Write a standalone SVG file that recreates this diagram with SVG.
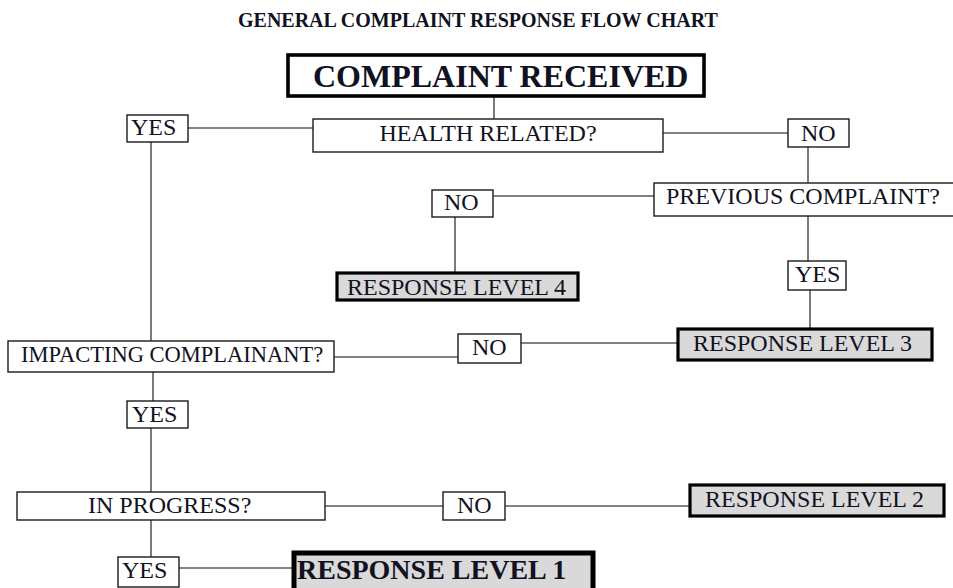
<svg xmlns="http://www.w3.org/2000/svg" width="953" height="588" viewBox="0 0 953 588">
<style>
  .t { font-family: "Liberation Serif", "Times New Roman", serif; fill: #111122; font-size: 24px; }
  .b { font-weight: bold; }
  .title { font-size: 20px; }
  .cr { font-size: 32px; }
  .l1t { font-size: 28px; }
  .imp { font-size: 22.5px; }
  .box { fill: #ffffff; stroke: #1a1a1a; stroke-width: 1.4; }
  .resp { fill: #d9d9d9; stroke: #000000; stroke-width: 3.2; }
  .main { fill: #ffffff; stroke: #000000; stroke-width: 3.6; }
  .l1 { fill: #d9d9d9; stroke: #000000; stroke-width: 5; }
  .conn line { stroke: #5a5a5a; stroke-width: 1.6; }
</style>
<rect width="953" height="588" fill="#ffffff"/>
<text class="t b title" x="238" y="27">GENERAL COMPLAINT RESPONSE FLOW CHART</text>

<g id="connectors" class="conn">
  <line x1="494" y1="97" x2="494" y2="119"/>
  <line x1="188" y1="128" x2="313" y2="128"/>
  <line x1="151" y1="142" x2="151" y2="341"/>
  <line x1="663" y1="133" x2="788" y2="133"/>
  <line x1="808" y1="147" x2="808" y2="189"/>
  <line x1="654" y1="196" x2="493" y2="196"/>
  <line x1="455" y1="217" x2="455" y2="272"/>
  <line x1="808" y1="216" x2="808" y2="261"/>
  <line x1="810" y1="290" x2="810" y2="328"/>
  <line x1="677" y1="343" x2="521" y2="343"/>
  <line x1="458" y1="357" x2="334" y2="357"/>
  <line x1="153" y1="372" x2="153" y2="401"/>
  <line x1="151" y1="428" x2="151" y2="492"/>
  <line x1="322" y1="506" x2="443" y2="506"/>
  <line x1="505" y1="506" x2="689" y2="506"/>
  <line x1="151" y1="520" x2="151" y2="557"/>
  <line x1="176" y1="568" x2="292" y2="568"/>
</g>

<g id="complaint-received">
  <rect class="main" x="288" y="55" width="416" height="41"/>
  <text class="t b cr" x="313" y="87">COMPLAINT RECEIVED</text>
</g>
<g id="health-related">
  <rect class="box" x="313" y="119" width="350" height="33"/>
  <text class="t" x="488" y="141" text-anchor="middle">HEALTH RELATED?</text>
</g>
<g id="yes-health">
  <rect class="box" x="127" y="115" width="61" height="27"/>
  <text class="t" x="131" y="135">YES</text>
</g>
<g id="no-health">
  <rect class="box" x="788" y="119" width="61" height="28"/>
  <text class="t" x="801" y="141">NO</text>
</g>
<g id="previous-complaint">
  <rect class="box" x="654" y="183" width="306" height="33"/>
  <text class="t" x="666" y="204">PREVIOUS COMPLAINT?</text>
</g>
<g id="no-previous">
  <rect class="box" x="432" y="190" width="61" height="27"/>
  <text class="t" x="444" y="210">NO</text>
</g>
<g id="response-level-4">
  <rect class="resp" x="337" y="273" width="241" height="27"/>
  <text class="t" x="347" y="295">RESPONSE LEVEL 4</text>
</g>
<g id="yes-previous">
  <rect class="box" x="788" y="261" width="58" height="29"/>
  <text class="t" x="795" y="282">YES</text>
</g>
<g id="response-level-3">
  <rect class="resp" x="678" y="329" width="254" height="31"/>
  <text class="t" x="693" y="351">RESPONSE LEVEL 3</text>
</g>
<g id="impacting-complainant">
  <rect class="box" x="8" y="341" width="326" height="31"/>
  <text class="t imp" x="21" y="362">IMPACTING COMPLAINANT?</text>
</g>
<g id="no-impacting">
  <rect class="box" x="458" y="334" width="63" height="29"/>
  <text class="t" x="472" y="355">NO</text>
</g>
<g id="yes-impacting">
  <rect class="box" x="127" y="401" width="61" height="27"/>
  <text class="t" x="132" y="422">YES</text>
</g>
<g id="in-progress">
  <rect class="box" x="17" y="492" width="308" height="28"/>
  <text class="t" x="88" y="513">IN PROGRESS?</text>
</g>
<g id="no-progress">
  <rect class="box" x="443" y="492" width="62" height="28"/>
  <text class="t" x="457" y="513">NO</text>
</g>
<g id="response-level-2">
  <rect class="resp" x="690" y="485" width="254" height="31"/>
  <text class="t" x="705" y="507">RESPONSE LEVEL 2</text>
</g>
<g id="yes-progress">
  <rect class="box" x="118" y="557" width="61" height="30"/>
  <text class="t" x="122" y="578">YES</text>
</g>
<g id="response-level-1">
  <rect class="l1" x="294" y="553" width="299" height="42"/>
  <text class="t b l1t" x="297" y="579">RESPONSE LEVEL 1</text>
</g>
</svg>
